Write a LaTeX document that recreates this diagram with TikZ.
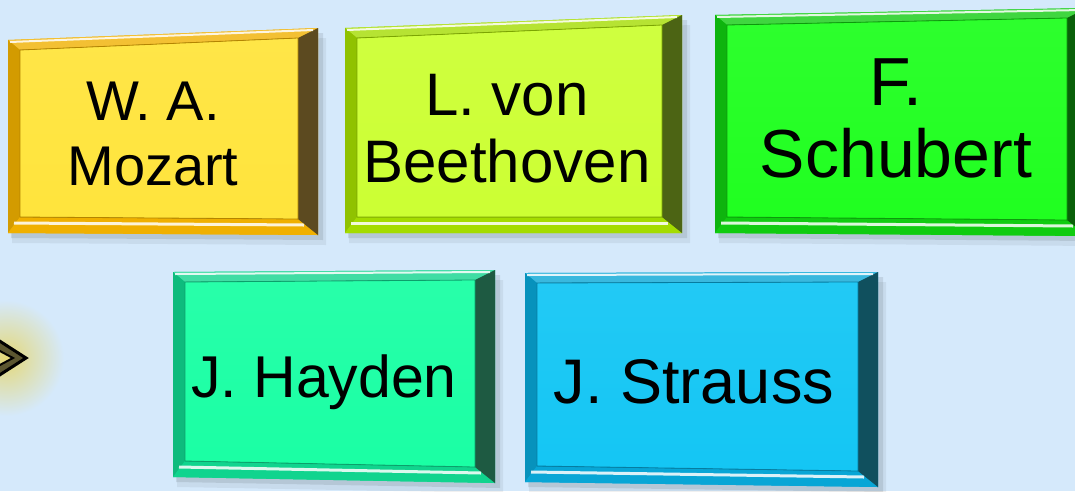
\documentclass[tikz,border=0pt]{standalone}
\usepackage{fontspec}
\setmainfont{Liberation Sans}
\usetikzlibrary{calc}
\definecolor{bg}{HTML}{D5E9FB}
\definecolor{glow}{HTML}{E4D878}
\definecolor{mzIn}{HTML}{FFE43C}
\definecolor{mzBand}{HTML}{F0B000}
\definecolor{mzDark}{HTML}{5C4A20}
\definecolor{bvIn}{HTML}{CCFF33}
\definecolor{bvBand}{HTML}{A4DC00}
\definecolor{bvDark}{HTML}{4C6414}
\definecolor{sbIn}{HTML}{20FF20}
\definecolor{sbBand}{HTML}{10CC10}
\definecolor{sbDark}{HTML}{0A600A}
\definecolor{hyIn}{HTML}{1AFFA4}
\definecolor{hyBand}{HTML}{10D48E}
\definecolor{hyDark}{HTML}{1E5A42}
\definecolor{stIn}{HTML}{14C6F4}
\definecolor{stBand}{HTML}{08A6D6}
\definecolor{stDark}{HTML}{10505E}
\tikzset{
  lbl/.style={anchor=base, inner sep=0pt, text=black},
}
% #1 TL, #2 TR, #3 BR, #4 BL, #5 inner, #6 band, #7 dark
\newcommand{\bevbox}[7]{%
  \coordinate (tl) at (#1);
  \coordinate (tr) at (#2);
  \coordinate (br) at (#3);
  \coordinate (bl) at (#4);
  \coordinate (itl) at ($(tl)+(12,10)$);
  \coordinate (itr) at ($(tr)+(-20,10)$);
  \coordinate (ibr) at ($(br)+(-20,-16)$);
  \coordinate (ibl) at ($(bl)+(12,-16)$);
  % shadow
  \fill[black,opacity=0.06] ($(tl)+(4,10)$) -- ($(tr)+(8,10)$) -- ($(br)+(8,10)$) -- ($(bl)+(4,10)$) -- cycle;
  \fill[black,opacity=0.09] ($(tl)+(3,5)$) -- ($(tr)+(5,5)$) -- ($(br)+(5,5)$) -- ($(bl)+(3,5)$) -- cycle;
  % outer band
  \fill[#6] (tl) -- (tr) -- (br) -- (bl) -- cycle;
  \fill[#6!80!white] (tl) -- (tr) -- (itr) -- (itl) -- cycle;
  \fill[#6!88!black] (tl) -- (itl) -- (ibl) -- (bl) -- cycle;
  \fill[#6] (bl) -- (ibl) -- (ibr) -- (br) -- cycle;
  \fill[#7] (tr) -- (itr) -- (ibr) -- (br) -- cycle;
  % inner face
  \fill[top color=#5!94!white, bottom color=#5] (itl) -- (itr) -- (ibr) -- (ibl) -- cycle;
  \draw[#6!75!black, line width=0.8pt] (itl) -- (itr) -- (ibr) -- (ibl) -- cycle;
  % highlights
  \draw[white, opacity=0.85, line width=2pt] ($(tl)+(2,2)$) -- ($(tr)+(-5,2)$);
  \draw[white, opacity=0.85, line width=3pt] ($(ibl)+(-6,6)$) -- ($(ibr)+(6,6)$);
}
\begin{document}
\begin{tikzpicture}[x=1pt, y=-1pt]
  \clip (0,0) rectangle (1075,491);
  \fill[bg] (0,0) rectangle (1075,491);
  % left arrow fragment with glow
  \shade[inner color=glow, outer color=bg] (6,358) circle (58);
  \coordinate (atip) at (26,358);
  \coordinate (aup) at (-2,340);
  \coordinate (alow) at (-2,376);
  \coordinate (iup) at (-2,350);
  \coordinate (itip) at (13,358);
  \coordinate (ilow) at (-2,366);
  \fill[black!60!glow] (aup) -- (atip) -- (alow) -- (ilow) -- (itip) -- (iup) -- cycle;
  \draw[black, line width=3pt, line join=miter] (aup) -- (atip) -- (alow);
  \draw[black, line width=2pt] (iup) -- (itip) -- (ilow);

  % boxes
  \bevbox{8,40}{318,28}{318,235}{8,233}{mzIn}{mzBand}{mzDark}
  \node[lbl, font=\fontsize{56}{62}\selectfont] (m1) at (153,120) {W. A.};
  \node[lbl, font=\fontsize{56}{62}\selectfont] (m2) at (153,185) {Mozart};

  \bevbox{345,28}{682,15}{682,233}{345,233}{bvIn}{bvBand}{bvDark}
  \node[lbl, font=\fontsize{60}{66}\selectfont] (b1) at (507,115) {L. von};
  \node[lbl, font=\fontsize{60}{66}\selectfont] (b2) at (507,182) {Beethoven};

  \bevbox{715,15}{1087,8}{1087,236}{715,233}{sbIn}{sbBand}{sbDark}
  \node[lbl, font=\fontsize{68}{74}\selectfont] (s1) at (896,105) {F.};
  \node[lbl, font=\fontsize{68}{74}\selectfont] (s2) at (896,177) {Schubert};

  \bevbox{173,272}{495,270}{495,483}{173,477}{hyIn}{hyBand}{hyDark}
  \node[lbl, font=\fontsize{59}{65}\selectfont] (h1) at (324,397) {J. Hayden};

  \bevbox{525,273}{878,272}{878,487}{525,482}{stIn}{stBand}{stDark}
  \node[lbl, font=\fontsize{63}{69}\selectfont] (t1) at (694,403) {J. Strauss};
\end{tikzpicture}
\end{document}
